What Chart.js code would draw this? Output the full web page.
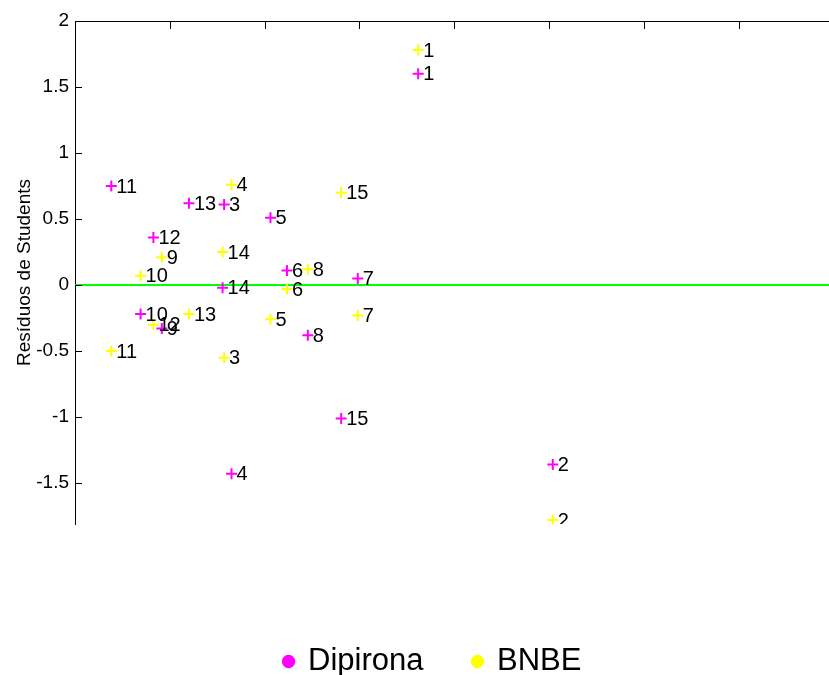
<!DOCTYPE html>
<html>
<head>
<meta charset="utf-8">
<title>Resíduos de Students</title>
<script src="https://cdn.jsdelivr.net/npm/chart.js@4.4.1/dist/chart.umd.min.js"></script>
<style>
  html, body { margin: 0; padding: 0; background: #ffffff; overflow: hidden; width: 829px; height: 675px; }
  canvas { display: block; }
</style>
</head>
<body>
<!-- The plot runs on past the right edge of the page -->
<canvas id="c" width="866" height="675"></canvas>
<script>
// Sample numbers, one per calibration sample
const sampleLabels = ['1', '2', '3', '4', '5', '6', '7', '8', '9', '10', '11', '12', '13', '14', '15'];
// Horizontal position of each sample (same for both analytes)
const xValues = [3.62, 5.04, 1.573, 1.651, 2.062, 2.236, 2.983, 2.456, 0.916, 0.692, 0.383, 0.827, 1.202, 1.557, 2.808];
// Studentized residuals per analyte
const dipirona = [1.60, -1.36, 0.61, -1.43, 0.51, 0.11, 0.05, -0.38, -0.33, -0.22, 0.75, 0.36, 0.62, -0.02, -1.01];
const bnbe = [1.78, -1.78, -0.55, 0.76, -0.26, -0.03, -0.23, 0.12, 0.21, 0.07, -0.50, -0.30, -0.22, 0.25, 0.70];
// Axis ticks and limits
const yTicks = [2, 1.5, 1, 0.5, 0, -0.5, -1, -1.5];
const yTickLabels = ['2', '1.5', '1', '0.5', '0', '-0.5', '-1', '-1.5'];
const xTicks = [1, 2, 3, 4, 5, 6, 7, 8];
const xRange = [0, 8.265];
const yRange = [-1.81, 2];

const FONT = "'Liberation Sans', Arial, sans-serif";

const toPoints = (ys) => ys.map((y, i) => ({ x: xValues[i], y }));

// Tick marks pointing into the plot area
const innerTicks = {
  id: 'innerTicks',
  afterDraw(chart) {
    const { ctx, chartArea, scales } = chart;
    ctx.save();
    ctx.strokeStyle = '#000000';
    ctx.lineWidth = 1;
    ctx.beginPath();
    xTicks.forEach(v => {
      const px = Math.round(scales.x.getPixelForValue(v)) + 0.5;
      ctx.moveTo(px, chartArea.top);
      ctx.lineTo(px, chartArea.top + 8);
    });
    yTicks.forEach(v => {
      const py = Math.round(scales.y.getPixelForValue(v)) + 0.5;
      ctx.moveTo(chartArea.left, py);
      ctx.lineTo(chartArea.left + 7, py);
    });
    ctx.stroke();
    ctx.restore();
  }
};

// Sample number written to the right of each marker
const sampleNumbers = {
  id: 'sampleNumbers',
  afterDatasetsDraw(chart) {
    const { ctx, chartArea } = chart;
    ctx.save();
    ctx.beginPath();
    ctx.rect(chartArea.left, chartArea.top, chartArea.right - chartArea.left, chartArea.bottom - chartArea.top);
    ctx.clip();
    ctx.font = '20px ' + FONT;
    ctx.fillStyle = '#000000';
    ctx.textAlign = 'left';
    ctx.textBaseline = 'middle';
    [1, 0].forEach(di => {
      const meta = chart.getDatasetMeta(di);
      meta.data.forEach((el, i) => {
        ctx.fillText(sampleLabels[i], el.x + 5, el.y + 1);
      });
    });
    ctx.restore();
  }
};

new Chart(document.getElementById('c'), {
  type: 'scatter',
  data: {
    datasets: [
      {
        label: 'Dipirona',
        data: toPoints(dipirona),
        pointStyle: 'cross',
        pointRadius: 5.5,
        pointHoverRadius: 5.5,
        borderColor: '#ff00ff',
        backgroundColor: '#ff00ff',
        borderWidth: 2,
        clip: 0,
        order: 1
      },
      {
        label: 'BNBE',
        data: toPoints(bnbe),
        pointStyle: 'cross',
        pointRadius: 5.5,
        pointHoverRadius: 5.5,
        borderColor: '#ffff00',
        backgroundColor: '#ffff00',
        borderWidth: 2,
        clip: 0,
        order: 2
      },
      {
        label: 'zero',
        type: 'line',
        data: xRange.map(x => ({ x, y: 0 })),
        borderColor: '#00ff00',
        borderWidth: 2,
        pointRadius: 0,
        fill: false,
        order: 3
      }
    ]
  },
  options: {
    responsive: false,
    animation: false,
    events: [],
    layout: { padding: { top: 21, left: 0, right: 0, bottom: -12 } },
    scales: {
      x: {
        type: 'linear',
        position: 'top',
        min: xRange[0],
        max: xRange[1],
        grid: { display: false, drawTicks: false },
        border: { display: true, color: '#000000', width: 1 },
        ticks: { display: false }
      },
      xb: {
        type: 'linear',
        position: 'bottom',
        axis: 'x',
        min: xRange[0],
        max: xRange[1],
        grid: { display: false, drawTicks: false },
        border: { display: false },
        ticks: { display: false },
        afterFit(scale) { scale.height = 72; }
      },
      y: {
        type: 'linear',
        min: yRange[0],
        max: yRange[1],
        grid: { display: false, drawTicks: false },
        border: { display: true, color: '#000000', width: 1 },
        afterBuildTicks(scale) { scale.ticks = yTicks.map(v => ({ value: v })); },
        afterFit(scale) { scale.width = 75; },
        ticks: {
          padding: 6,
          color: '#000000',
          font: { family: FONT, size: 19 },
          callback: (v) => yTickLabels[yTicks.indexOf(v)]
        },
        title: {
          display: true,
          text: 'Resíduos de Students',
          color: '#000000',
          font: { family: FONT, size: 19 },
          padding: { top: 13, bottom: 0 }
        }
      }
    },
    plugins: {
      legend: {
        position: 'bottom',
        labels: {
          usePointStyle: true,
          pointStyle: 'circle',
          boxWidth: 8,
          boxHeight: 8,
          padding: 50,
          color: '#000000',
          font: { family: FONT, size: 31 },
          filter: (item) => item.text !== 'zero'
        }
      },
      tooltip: { enabled: false }
    }
  },
  plugins: [innerTicks, sampleNumbers]
});
</script>
</body>
</html>
